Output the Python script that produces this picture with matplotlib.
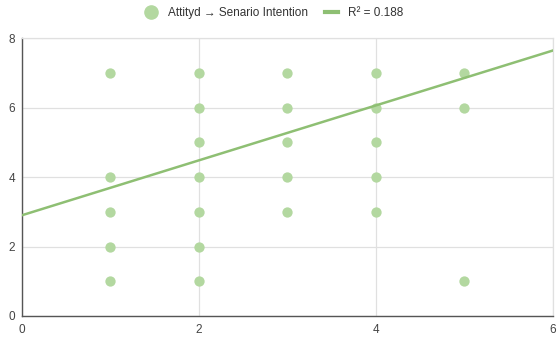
import matplotlib
matplotlib.use("Agg")
import matplotlib.pyplot as plt
from matplotlib.lines import Line2D

plt.rcParams['font.family'] = ['Liberation Sans', 'DejaVu Sans']

x_vals = [1, 1, 1, 1, 1,
          2, 2, 2, 2, 2, 2, 2,
          3, 3, 3, 3, 3,
          4, 4, 4, 4, 4,
          5, 5, 5]
y_vals = [7, 4, 3, 2, 1,
          7, 6, 5, 4, 3, 2, 1,
          7, 6, 5, 4, 3,
          7, 6, 5, 4, 3,
          7, 6, 1]
trend_intercept = 2.9
trend_slope = 0.79
series_label = "Attityd \u2192 Senario Intention"
trend_label = "R\u00b2 = 0.188"
x_ticks = [0, 2, 4, 6]
y_ticks = [0, 2, 4, 6, 8]

pt_color = '#b3d8a0'
line_color = '#8ebf73'

fig = plt.figure(figsize=(5.59, 3.40), dpi=100)
ax = fig.add_axes([0.0394, 0.0706, 0.9496, 0.8176])

ax.scatter(x_vals, y_vals, s=55, color=pt_color, zorder=3, linewidths=0)
xs = [0, 6]
ax.plot(xs, [trend_intercept + trend_slope * v for v in xs], color=line_color, lw=1.8, zorder=4)

ax.set_xlim(0, 6)
ax.set_ylim(0, 8)
ax.set_xticks(x_ticks)
ax.set_yticks(y_ticks)
ax.grid(True, color='#e0e0e0', lw=0.9, zorder=0)
for s in ['top', 'right']:
    ax.spines[s].set_color('#e0e0e0')
    ax.spines[s].set_linewidth(0.9)
for s in ['left', 'bottom']:
    ax.spines[s].set_color('#555555')
    ax.spines[s].set_linewidth(1.0)
ax.tick_params(length=0, labelsize=8.5, colors='#444444', pad=6)
ax.tick_params(axis='y', pad=5)

handles = [Line2D([], [], marker='o', ls='none', color=pt_color, markersize=9.5),
           Line2D([], [], color=line_color, lw=3)]
fig.legend(handles, [series_label, trend_label], loc='upper center',
           bbox_to_anchor=(0.49, 1.01), ncol=2, frameon=False, fontsize=8.5,
           labelcolor='#333333', handlelength=1.1, columnspacing=1.4, handletextpad=0.9)

fig.savefig('out.png', dpi=100)
